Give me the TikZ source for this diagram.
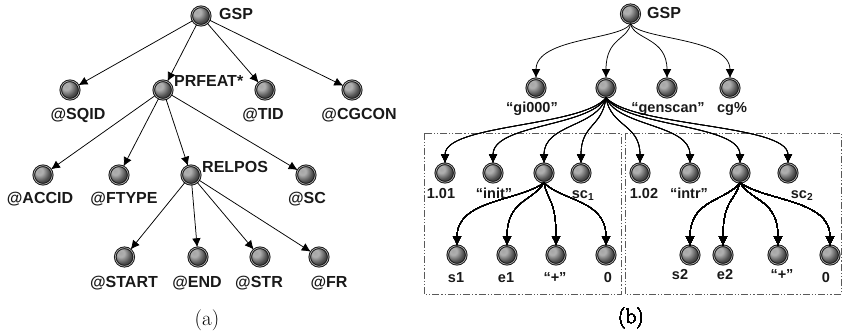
\documentclass[tikz,border=0pt]{standalone}
\usepackage{fontspec}
\newfontfamily\lab{Liberation Sans}
\usetikzlibrary{arrows.meta,shadings,calc}
\pgfdeclareradialshading{sphereshade}{\pgfpoint{-12bp}{12bp}}{%
  color(0bp)=(gray!70); color(10bp)=(gray!62); color(25bp)=(gray!60!black);
  color(40bp)=(black!85); color(50bp)=(black); color(70bp)=(black)}
\tikzset{
  ball/.style={circle, inner sep=0pt, minimum size=18.5pt, draw=black!90, line width=1.0pt,
    double=gray!55, double distance=0.6pt, shading=sphereshade},
  lbl/.style={font=\lab\bfseries\fontsize{16}{18}\selectfont, anchor=base, text=black!90, inner sep=0pt},
  rlbl/.style={font=\lab\bfseries\fontsize{14.5}{17}\selectfont, anchor=base, text=black!90, inner sep=0pt},
  arr/.style={-{Latex[length=9pt,width=8.5pt]}, line width=0.75pt, black},
  boxline/.style={draw=black!65, line width=1pt, dash pattern=on 7pt off 2pt on 1.2pt off 2pt on 1.2pt off 2pt},
  capt/.style={font=\fontsize{21}{24}\selectfont, inner sep=0pt}
}
% curved connector: #1 parent, #2 child, #3 x-frac of first control, #4 y-frac of first control, #5 y-frac of second control
\newcommand\curvedge[5]{%
  \draw[arr] let \p1=(#1.south), \p2=(#2.north), \n1={\y2-\y1} in
    (\p1) .. controls ({\x1+#3*(\x2-\x1)},{\y1+#4*\n1}) and ({\x2},{\y1+#5*\n1}) .. (\p2);}
\begin{document}
\begin{tikzpicture}[x=1pt,y=-1pt]
\useasboundingbox (0,0) rectangle (842,334);
% ---------------- (a) ----------------
\node[ball] (a0) at (201,16) {};
\node[lbl, anchor=base west] (a0l) at (219,20) {GSP};
\node[ball] (asq) at (70,90) {};
\node[ball] (apr) at (163,90) {};
\node[ball] (atid) at (265,90) {};
\node[ball] (acg) at (352,90) {};
\node[lbl] (asql) at (78,119) {@SQID};
\node[lbl, anchor=base west] (aprl) at (174,87) {PRFEAT*};
\node[lbl] (atidl) at (263,119) {@TID};
\node[lbl] (acgl) at (359,119) {@CGCON};
\node[ball] (aacc) at (43,175) {};
\node[ball] (afty) at (119,175) {};
\node[ball] (arel) at (191,175) {};
\node[ball] (asc) at (306,175) {};
\node[lbl] (aaccl) at (40,203) {@ACCID};
\node[lbl] (aftyl) at (124,203) {@FTYPE};
\node[lbl, anchor=base west] (arell) at (202,172) {RELPOS};
\node[lbl] (ascl) at (307,203) {@SC};
\node[ball] (ast) at (124.5,257) {};
\node[ball] (aen) at (198,257) {};
\node[ball] (astr) at (260,257) {};
\node[ball] (afr) at (319,257) {};
\node[lbl] (astl) at (124,287) {@START};
\node[lbl] (aenl) at (197,287) {@END};
\node[lbl] (astrl) at (259,287) {@STR};
\node[lbl] (afrl) at (329,287) {@FR};
\foreach \c in {asq,apr,atid,acg} \draw[arr] (a0) -- (\c);
\foreach \c in {aacc,afty,arel,asc} \draw[arr] (apr) -- (\c);
\foreach \c in {ast,aen,astr,afr} \draw[arr] (arel) -- (\c);
\node[capt] (capa) at (207,320) {(a)};
% ---------------- (b) ----------------
\draw[boxline] (424,133) rectangle (621,294);
\draw[boxline] (625,133) rectangle (841,294);
\node[ball] (b0) at (630.5,14) {};
\node[lbl, anchor=base west] (b0l) at (647,19) {GSP};
\node[ball] (bg1) at (536,88) {};
\node[ball] (bm) at (606,88) {};
\node[ball] (bg3) at (667,88) {};
\node[ball] (bg4) at (730,88) {};
\node[rlbl] (bg1l) at (532,112) {“gi000”};
\node[rlbl] (bg3l) at (668,112) {“genscan”};
\node[rlbl] (bg4l) at (732,112) {cg\%};
\node[ball] (n1) at (445,173) {};
\node[ball] (n2) at (493,173) {};
\node[ball] (n3) at (544,173) {};
\node[ball] (n4) at (581,173) {};
\node[ball] (n5) at (640,173) {};
\node[ball] (n6) at (690,173) {};
\node[ball] (n7) at (740,173) {};
\node[ball] (n8) at (788,173) {};
\node[rlbl] (n1l) at (441,198) {1.01};
\node[rlbl] (n2l) at (494,198) {“init”};
\node[rlbl] (n4l) at (583,198) {sc\textsubscript{1}};
\node[rlbl] (n5l) at (644,198) {1.02};
\node[rlbl] (n6l) at (689,198) {“intr”};
\node[rlbl] (n8l) at (802,198) {sc\textsubscript{2}};
\node[ball] (l1) at (457,255) {};
\node[ball] (l2) at (507,255) {};
\node[ball] (l3) at (556,255) {};
\node[ball] (l4) at (606,255) {};
\node[ball] (l5) at (690,255) {};
\node[ball] (l6) at (723,255) {};
\node[ball] (l7) at (778,255) {};
\node[ball] (l8) at (830,255) {};
\node[rlbl] (l1l) at (456,282) {s1};
\node[rlbl] (l2l) at (506,282) {e1};
\node[rlbl] (l3l) at (555,282) {“+”};
\node[rlbl] (l4l) at (608,282) {0};
\node[rlbl] (l5l) at (680,279) {s2};
\node[rlbl] (l6l) at (725,279) {e2};
\node[rlbl] (l7l) at (782,279) {“+”};
\node[rlbl] (l8l) at (826,282) {0};
\foreach \c in {bg1,bm,bg3,bg4} \curvedge{b0}{\c}{0.1}{0.3}{0.25}
\foreach \c in {n1,n2,n3,n4,n5,n6,n7,n8} \curvedge{bm}{\c}{0.15}{0.45}{0.4}
\foreach \c in {l1,l2,l3,l4} \curvedge{n3}{\c}{0.3}{0.3}{0.27}
\foreach \c in {l5,l6,l7,l8} \curvedge{n7}{\c}{0.3}{0.3}{0.27}
\node[capt] (capb) at (631,318) {(b)};
\end{tikzpicture}
\end{document}
